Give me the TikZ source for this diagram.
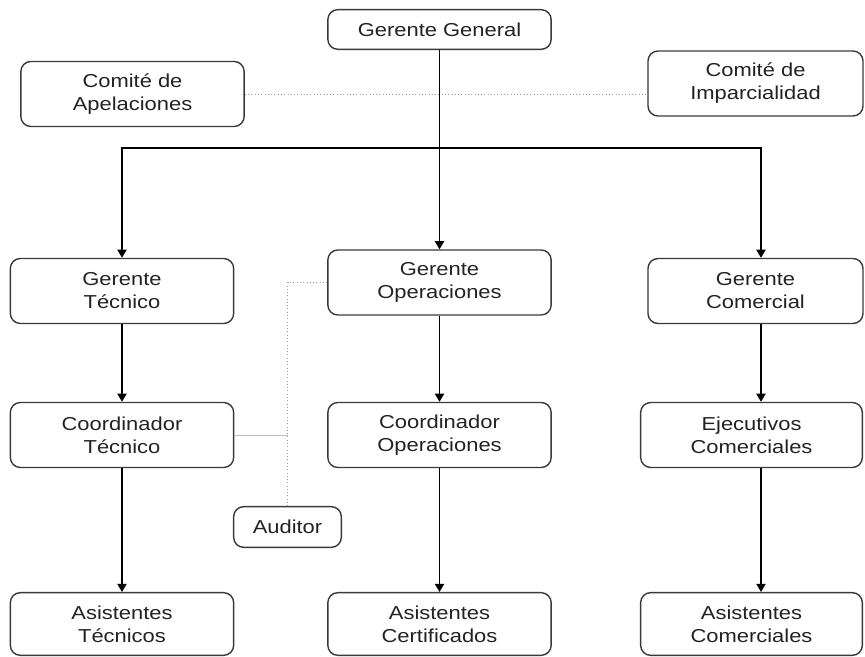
\documentclass[tikz,border=0pt]{standalone}
\usepackage{fontspec}
\setmainfont{Liberation Sans}[FakeStretch=1.17]
\usetikzlibrary{positioning, arrows.meta}

\definecolor{borde}{HTML}{3A3A3A}
\definecolor{texto}{HTML}{222222}

\begin{document}
\begin{tikzpicture}[
        x=0.03cm, y=-0.03cm,
        caja/.style={draw=borde, line width=1.2pt, rounded corners=0.3cm, align=center, text=texto,
            font=\fontsize{16}{19.6}\selectfont, minimum width=6.7cm, minimum height=1.95cm, inner sep=0pt},
        flecha/.style={draw, line width=1.2pt, -{Triangle[length=7pt, width=8pt]}},
        punteado/.style={draw=gray!80, dotted, line width=0.8pt},
        gris/.style={draw=gray!50, line width=0.8pt}
    ]
    \useasboundingbox (0,0) rectangle (865,657);

    % Direccion
    \node (gg) [caja, minimum height=1.19cm] at (439.5,29.5) {Gerente General};
    \node (apel) [caja] at (132.5,94) {Comité de\\Apelaciones};
    \node (impar) [caja, minimum width=6.45cm] at (755.5,83.5) {Comité de\\Imparcialidad};

    % Gerencias
    \node (gt) [caja] at (122,291) {Gerente\\Técnico};
    \node (go) [caja] at (439.5,282.5) {Gerente\\Operaciones};
    \node (gc) [caja, minimum width=6.45cm] at (755.5,291) {Gerente\\Comercial};

    % Coordinacion
    \node (ct) [caja] at (122,435) {Coordinador\\Técnico};
    \node (co) [caja] at (439.5,435) {Coordinador\\Operaciones};
    \node (ej) [caja, minimum width=6.65cm] at (751.5,435) {Ejecutivos\\Comerciales};
    \node (aud) [caja, minimum width=3.23cm, minimum height=1.22cm] at (287.5,527) {Auditor};

    % Asistentes
    \node (at) [caja, minimum height=1.88cm] at (122,624) {Asistentes\\Técnicos};
    \node (ac) [caja, minimum height=1.88cm] at (439.5,624) {Asistentes\\Certificados};
    \node (acm) [caja, minimum width=6.65cm, minimum height=1.88cm] at (751.5,624) {Asistentes\\Comerciales};

    % Conexiones
    \coordinate (bus) at (439.5,148);
    \coordinate (colc) at (761,148);
    \draw[flecha] (gg) -- (go);
    \draw[flecha] (bus) -| (gt.north);
    \draw[flecha] (bus) -| (gc.north -| colc);
    \draw[flecha] (gt) -- (ct);
    \draw[flecha] (ct) -- (at);
    \draw[flecha] (go) -- (co);
    \draw[flecha] (co) -- (ac);
    \draw[flecha] (gc.south -| colc) -- (ej.north -| colc);
    \draw[flecha] (ej.south -| colc) -- (acm.north -| colc);
    \draw[punteado] (apel.east) -- (apel.east -| impar.west);
    \draw[punteado] (go.west) -| (aud.north);
    \draw[gris] (ct.east) -- (ct.east -| aud.north);

\end{tikzpicture}
\end{document}
